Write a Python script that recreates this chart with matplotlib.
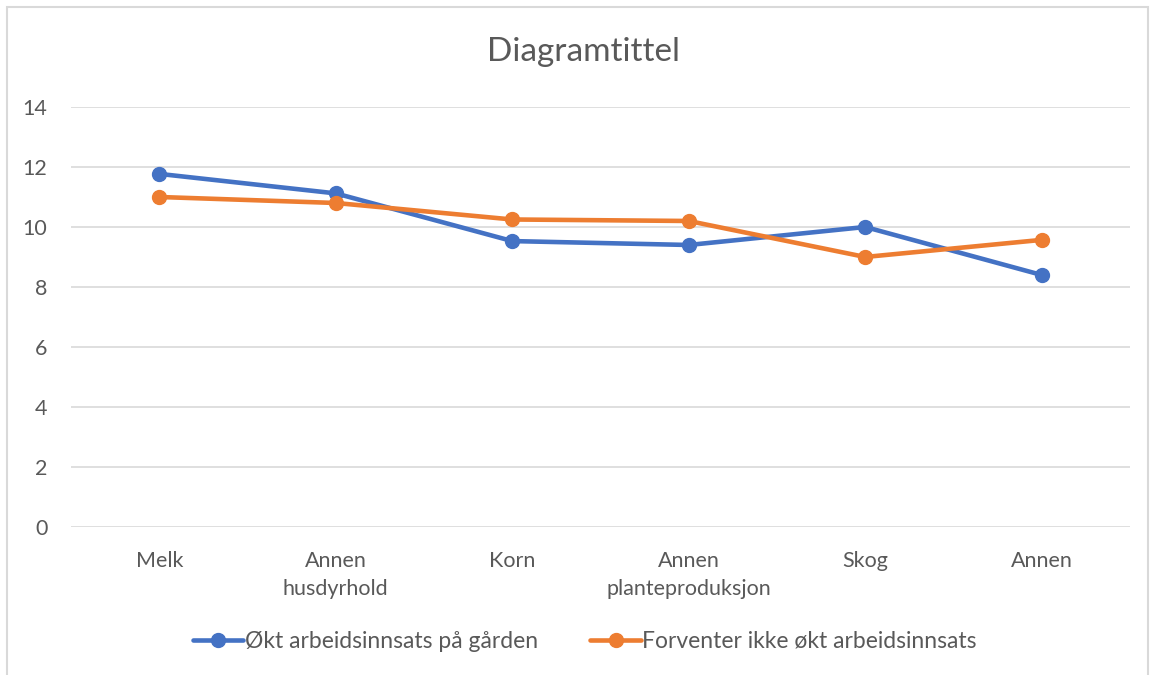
import numpy as np
import matplotlib.pyplot as plt
from matplotlib.patches import Rectangle

plt.rcParams['font.family'] = ['Lato', 'DejaVu Sans']

kategorier = ["Melk", "Annen\nhusdyrhold", "Korn", "Annen\nplanteproduksjon", "Skog", "Annen"]
okt = [11.77, 11.12, 9.53, 9.4, 10.0, 8.4]
ikke_okt = [11.0, 10.8, 10.25, 10.2, 9.0, 9.57]

blaa = "#4472C4"
oransje = "#ED7D31"
tekst = "#595959"

fig = plt.figure(figsize=(11.51, 6.75), dpi=100)
ax = fig.add_axes([0.0617, 0.2193, 0.92, 0.6222])

x = np.arange(len(kategorier))
ax.plot(x, okt, color=blaa, lw=3.3, marker="o", ms=10, label="Økt arbeidsinnsats på gården", solid_capstyle="round")
ax.plot(x, ikke_okt, color=oransje, lw=3.3, marker="o", ms=10, label="Forventer ikke økt arbeidsinnsats", solid_capstyle="round")

ax.set_xlim(-0.5, len(kategorier) - 0.5)
ax.set_ylim(0, 14)
ax.set_yticks(range(0, 15, 2))
ax.set_xticks(x)
ax.set_xticklabels(kategorier)
ax.yaxis.grid(True, color="#D9D9D9", lw=1.2)
ax.set_axisbelow(True)
for s in ax.spines.values():
    s.set_visible(False)
ax.tick_params(length=0, labelsize=15.5, colors=tekst, pad=17)
ax.tick_params(axis="y", pad=17)
for t in ax.get_xticklabels():
    t.set_linespacing(1.5)

fig.text(0.507, 0.923, "Diagramtittel", ha="center", va="center", fontsize=24, color=tekst)

leg = fig.legend(loc="center", bbox_to_anchor=(0.508, 0.05), ncol=2, frameon=False,
                 fontsize=16.5, handlelength=2.2, handletextpad=0.05, columnspacing=2.3)
for t in leg.get_texts():
    t.set_color(tekst)

fig.patches.append(Rectangle((7 / 1151, -0.01), 1141 / 1151, 1 - 7 / 675 + 0.01, transform=fig.transFigure,
                             fill=False, edgecolor="#D9D9D9", lw=1.5))

fig.savefig("out.png", dpi=100)
